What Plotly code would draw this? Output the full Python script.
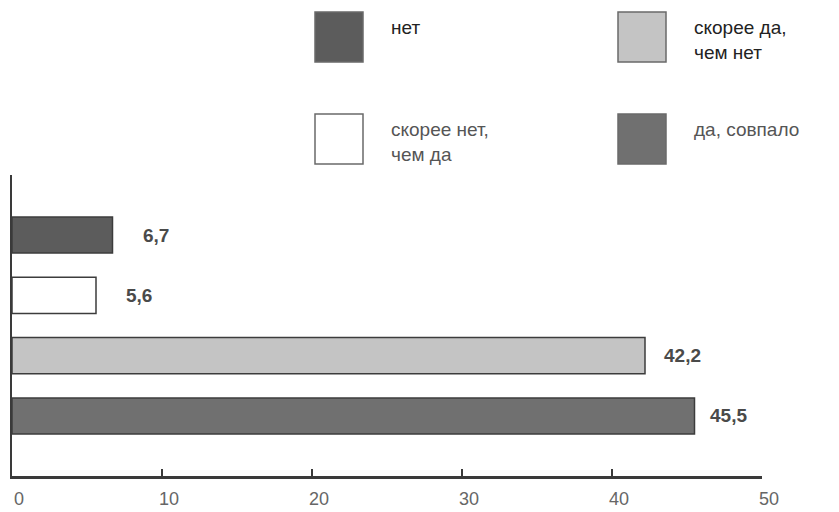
import plotly.graph_objects as go

# Survey answers and their shares, %
categories = ["нет", "скорее нет, чем да", "скорее да, чем нет", "да, совпало"]
values = [6.7, 5.6, 42.2, 45.5]
legend_labels = ["нет", "скорее нет,<br>чем да", "скорее да,<br>чем нет", "да, совпало"]
fills = ["#5c5c5c", "#ffffff", "#c4c4c4", "#707070"]
x_ticks = [0, 10, 20, 30, 40, 50]

W, H = 839, 512
L, R, T, B = 12, 77, 175, 36
FONT = "Liberation Sans, Arial, sans-serif"


def px_x(px):
    return (px - L) / (W - L - R)


def px_y(py):
    return (H - B - py) / (H - T - B)


fig = go.Figure()
fig.add_trace(go.Bar(
    y=list(range(len(categories))),
    x=values,
    orientation="h",
    width=0.6,
    marker=dict(color=fills, line=dict(color="#3c3c3c", width=1.5)),
    hovertext=categories,
    showlegend=False,
))

# value labels to the right of each bar
label_shift = [28, 28, 17, 13]
for i, v in enumerate(values):
    fig.add_annotation(
        x=v, y=i, xref="x", yref="y",
        text="<b>" + f"{v:.1f}".replace(".", ",") + "</b>",
        showarrow=False, xanchor="left", yanchor="middle",
        xshift=label_shift[i],
        font=dict(family=FONT, size=19, color="#4a4a4a"),
    )

# 2x2 legend block above the plot
legend_pos = [(315, 12), (315, 114), (618, 12), (618, 114)]
legend_text_color = ["#222222", "#555555", "#222222", "#555555"]
for (lx, ly), lab, col, tc in zip(legend_pos, legend_labels, fills, legend_text_color):
    fig.add_shape(
        type="rect", xref="paper", yref="paper",
        x0=px_x(lx), x1=px_x(lx + 48), y0=px_y(ly), y1=px_y(ly + 50),
        fillcolor=col, line=dict(color="#6a6a6a", width=1.5),
    )
    multi = "<br>" in lab
    fig.add_annotation(
        xref="paper", yref="paper",
        x=px_x(lx + 74), y=px_y(ly + (28 if multi else 15)),
        text=lab, showarrow=False, xanchor="left", yanchor="middle", align="left",
        font=dict(family=FONT, size=19, color=tc),
    )

fig.update_layout(
    width=W, height=H,
    margin=dict(l=L, r=R, t=T, b=B),
    paper_bgcolor="white", plot_bgcolor="white",
    bargap=0.4,
    xaxis=dict(
        range=[0, 50], tickvals=x_ticks, ticktext=[str(t) for t in x_ticks],
        showgrid=False, zeroline=False, automargin=False,
        showline=True, linecolor="#3a3a3a", linewidth=3,
        ticks="inside", ticklen=7, tickwidth=2, tickcolor="#3a3a3a",
        tickfont=dict(family=FONT, size=18, color="#666666"),
        ticklabelstandoff=4, ticklabelshift=7,
    ),
    yaxis=dict(
        range=[3.995, -0.995], showticklabels=False, ticks="",
        showgrid=False, zeroline=False, automargin=False,
        showline=True, linecolor="#3a3a3a", linewidth=2,
    ),
)

fig.write_html("out.html")
